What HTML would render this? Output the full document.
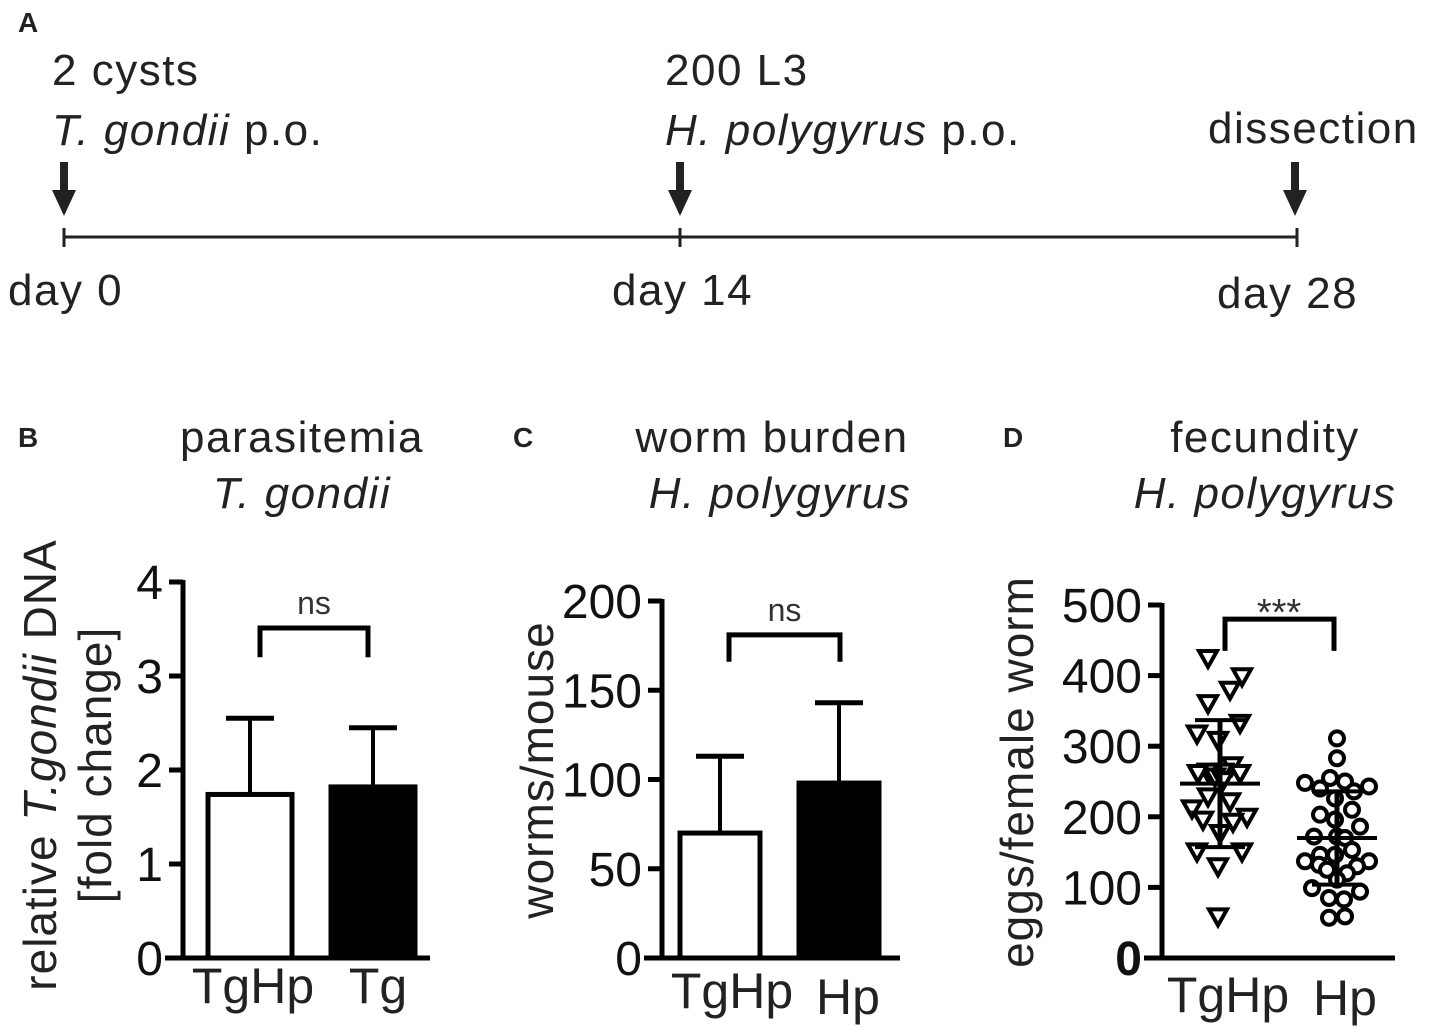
<!DOCTYPE html>
<html><head><meta charset="utf-8"><style>
body{margin:0;background:#fff}
svg{display:block;font-family:"Liberation Sans",Arial,sans-serif}
</style></head><body>
<svg id="fig" width="1429" height="1031" viewBox="0 0 1429 1031">
<g fill="#222">
<text x="18" y="32" font-size="28" font-weight="bold">A</text>
<g font-size="44" letter-spacing="1.5">
<text x="52" y="85">2 cysts</text>
<text x="52" y="145"><tspan font-style="italic">T. gondii</tspan> p.o.</text>
<text x="665" y="85">200 L3</text>
<text x="665" y="145"><tspan font-style="italic">H. polygyrus</tspan> p.o.</text>
<text x="1208" y="143">dissection</text>
<text x="8" y="305">day 0</text>
<text x="612" y="305">day 14</text>
<text x="1217" y="308">day 28</text>
</g>
<line x1="64" y1="237" x2="1297" y2="237" stroke="#222" stroke-width="3"/>
<g stroke="#222" stroke-width="3">
<line x1="64" y1="228" x2="64" y2="247"/><line x1="680" y1="228" x2="680" y2="247"/><line x1="1297" y1="228" x2="1297" y2="247"/>
</g>
<g>
<rect x="60" y="162" width="8" height="30"/><polygon points="52,190 76,190 64,216"/>
<rect x="676" y="162" width="8" height="30"/><polygon points="668,190 692,190 680,216"/>
<rect x="1291" y="162" width="8" height="30"/><polygon points="1283,190 1307,190 1295,216"/>
</g>
</g>
<g fill="#222">
<text x="18" y="447" font-size="28" font-weight="bold">B</text>
<text x="513" y="447" font-size="28" font-weight="bold">C</text>
<text x="1003" y="447" font-size="28" font-weight="bold">D</text>
<g font-size="44" letter-spacing="1.5" text-anchor="middle">
<text x="302" y="452">parasitemia</text>
<text x="302" y="508" font-style="italic">T. gondii</text>
<text x="772" y="452">worm burden</text>
<text x="780" y="508" font-style="italic">H. polygyrus</text>
<text x="1265" y="452">fecundity</text>
<text x="1265" y="508" font-style="italic">H. polygyrus</text>
</g>
<g font-size="46" letter-spacing="1" text-anchor="middle">
<text transform="translate(56,765) rotate(-90)">relative <tspan font-style="italic">T.gondii</tspan> DNA</text>
<text transform="translate(111,765) rotate(-90)">[fold change]</text>
<text transform="translate(553,770) rotate(-90)">worms/mouse</text>
<text transform="translate(1033,772) rotate(-90)">eggs/female worm</text>
</g>
</g>
<g id="charts"></g>
</svg>
<script>
const NS="http://www.w3.org/2000/svg";
const root=document.getElementById('charts');
function mk(tag,attrs,parent){const e=document.createElementNS(NS,tag);for(const k in attrs)e.setAttribute(k,attrs[k]);(parent||root).appendChild(e);return e;}

// Panel B data
const bCategories=["TgHp","Tg"];
const bMeans=[1.74,1.82];
const bErrors=[0.81,0.63];
const bTicks=[0,1,2,3,4];
// Panel C data
const cCategories=["TgHp","Hp"];
const cMeans=[70,98];
const cErrors=[43,45];
const cTicks=[0,50,100,150,200];
// Panel D data
const dCategories=["TgHp","Hp"];
const dMeans=[247,170];
const dSD=[90,66];
const dTicks=[0,100,200,300,400,500];
const dTgHpValues=[425,399,380,361,333,318,309,264,273,264,262,262,257,252,229,222,212,200,196,193,177,151,151,130,59];
const dTgHpJitter=[-12,22,10,-12,20,-23,-2,-12,12,3,20,-22,-5,3,-12,10,-28,27,-17,13,0,-23,22,-2,-2];
const dHpValues=[311,283,255,248,250,243,240,236,226,203,210,196,186,172,172,170,146,153,146,137,137,132,130,125,120,111,99,94,85,83,57,59];
const dHpJitter=[0,0,-7,-32,8,32,-17,17,-2,-17,15,-2,23,-23,0,8,-17,15,-2,-32,32,-18,20,-10,10,0,-25,23,-8,7,-8,8];

function axis(g,x0,yTop,y0,xEnd,ticks,max,bold0,name){
  const ys=v=>y0-(v/max)*(y0-yTop);
  const ax=mk('g',{},g);
  
  
  mk('line',{x1:x0,y1:yTop-2,x2:x0,y2:y0+2,stroke:'#000','stroke-width':5},ax);
  const xa=mk('line',{x1:x0-18,y1:y0,x2:xEnd,y2:y0,stroke:'#000','stroke-width':5},g);
  
  
  ticks.forEach(t=>{
    mk('line',{x1:x0-14,y1:ys(t),x2:x0,y2:ys(t),stroke:'#000','stroke-width':5},ax);
    const tx=mk('text',{x:x0-20,y:ys(t)+17,'font-size':48,'text-anchor':'end',fill:'#111','font-weight':(bold0&&t===0)?'bold':'normal'},ax);
    tx.textContent=t;
    
    
  });
  return ys;
}
function barChart(name,x0,yTop,y0,xEnd,ticks,max,cats,means,errs,barX,barW,labX,labY,br,brL,brR){
  const g=mk('g',{});
  
  
  const ys=axis(g,x0,yTop,y0,xEnd,ticks,max,false,name);
  cats.forEach((c,i)=>{
    const cx=barX[i]+barW/2, top=ys(means[i]), et=ys(means[i]+errs[i]);
    mk('line',{x1:cx,y1:top,x2:cx,y2:et,stroke:'#000','stroke-width':4},g);
    mk('line',{x1:cx-24,y1:et,x2:cx+24,y2:et,stroke:'#000','stroke-width':5},g);
    const b=mk('rect',{x:barX[i],y:top,width:barW,height:y0-top,fill:i?'#000':'#fff',stroke:'#000','stroke-width':5},g);
    
    
    const t=mk('text',{x:labX[i],y:labY[i],'font-size':50,'text-anchor':'middle',fill:'#222'},g);
    t.textContent=c;
    
    
  });
  const p=mk('path',{d:`M${brL},${ys(br[1])} V${ys(br[0])} H${brR} V${ys(br[1])}`,fill:'none',stroke:'#000','stroke-width':5},g);
  
  
  const s=mk('text',{x:(brL+brR)/2,y:ys(br[0])-14,'font-size':32,'text-anchor':'middle',fill:'#333'},g);
  s.textContent='ns';
  
  
}
barChart('panel-b-chart',183,582,958,430,bTicks,4,bCategories,bMeans,bErrors,[208,331],84,[253,378],[1003,1003],[3.51,3.2],260,368);
barChart('panel-c-chart',662,601,958,900,cTicks,200,cCategories,cMeans,cErrors,[680,799],80,[732,848],[1008,1014],[181,166],729,840);

// Panel D
(function(){
  const g=mk('g',{});
  
  
  const ys=axis(g,1162,605,958,1395,dTicks,500,true,'panel-d');
  const cxs=[1220,1337];
  const tri=mk('g',{},g);
  
  
  dTgHpValues.forEach((v,i)=>{
    const x=cxs[0]+dTgHpJitter[i], y=ys(v);
    const p=mk('polygon',{points:`${x-9},${y-7} ${x+9},${y-7} ${x},${y+9}`,fill:'#fff',stroke:'#000','stroke-width':4},tri);
    
    
  });
  const cir=mk('g',{},g);
  
  
  dHpValues.forEach((v,i)=>{
    const c=mk('circle',{cx:cxs[1]+dHpJitter[i],cy:ys(v),r:7,fill:'#fff',stroke:'#000','stroke-width':4},cir);
    
    
  });
  dCategories.forEach((c,i)=>{
    const cx=cxs[i];
    mk('line',{x1:cx,y1:ys(dMeans[i]-dSD[i]),x2:cx,y2:ys(dMeans[i]+dSD[i]),stroke:'#000','stroke-width':5},g);
    mk('line',{x1:cx-25,y1:ys(dMeans[i]+dSD[i]),x2:cx+25,y2:ys(dMeans[i]+dSD[i]),stroke:'#000','stroke-width':4},g);
    mk('line',{x1:cx-25,y1:ys(dMeans[i]-dSD[i]),x2:cx+25,y2:ys(dMeans[i]-dSD[i]),stroke:'#000','stroke-width':4},g);
    const m=mk('line',{x1:cx-40,y1:ys(dMeans[i]),x2:cx+40,y2:ys(dMeans[i]),stroke:'#000','stroke-width':4},g);
    
    
    const t=mk('text',{x:cx+8,y:i?1015:1012,'font-size':50,'text-anchor':'middle',fill:'#222'},g);
    t.textContent=c;
    
    
  });
  const p=mk('path',{d:`M1225,${ys(435)} V${ys(480)} H1334 V${ys(435)}`,fill:'none',stroke:'#000','stroke-width':5},g);
  
  
  const s=mk('text',{x:1279,y:ys(480)+6,'font-size':38,'text-anchor':'middle',fill:'#333'},g);
  s.textContent='***';
  
  
})();
</script>
</body></html>
